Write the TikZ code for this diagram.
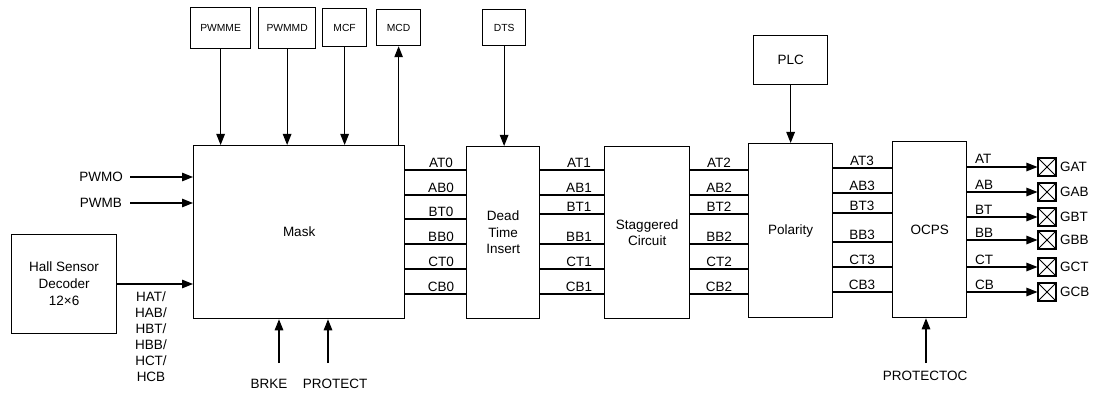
\documentclass[tikz,border=0pt]{standalone}
\usepackage{fontspec}
\setmainfont{Liberation Sans}
\usetikzlibrary{arrows.meta}
\begin{document}
\begin{tikzpicture}[x=1pt,y=-1pt,
  box/.style={draw, line width=1.25pt, inner sep=0pt, anchor=north west, align=center},
  lbl/.style={font=\fontsize{13.5}{16}\selectfont, inner sep=0pt},
  big/.style={font=\fontsize{13.5}{16.5}\selectfont},
  small/.style={font=\fontsize{10.3}{12}\selectfont},
  arr/.style={line width=1.2pt, -{Triangle[length=11pt,width=8.5pt]}},
  wire/.style={line width=1.2pt},
  xbox/.style={draw, line width=1.1pt, minimum size=18pt, inner sep=0pt}]
\useasboundingbox (0,0) rectangle (1097,393);

% top control boxes
\node[box, small, minimum width=60pt, minimum height=41pt] (pwmme) at (190,7) {PWMME};
\node[box, small, minimum width=57pt, minimum height=41pt] (pwmmd) at (258,7) {PWMMD};
\node[box, small, minimum width=44pt, minimum height=38pt] (mcf) at (322,8) {MCF};
\node[box, small, minimum width=44pt, minimum height=36pt] (mcd) at (376,9) {MCD};
\node[box, small, minimum width=43pt, minimum height=36pt] (dts) at (482,9) {DTS};
\node[box, big, minimum width=74pt, minimum height=49pt] (plc) at (753,35) {PLC};

% main blocks
\node[box, big, minimum width=211pt, minimum height=173pt] (mask) at (193,145) {Mask};
\node[box, big, minimum width=73pt, minimum height=172pt] (dti) at (466,146) {Dead\\Time\\Insert};
\node[box, big, minimum width=85pt, minimum height=172pt] (stag) at (604,146) {Staggered\\Circuit};
\node[box, big, minimum width=84pt, minimum height=174pt] (pol) at (748,143) {Polarity};
\node[box, big, minimum width=74pt, minimum height=176pt] (ocps) at (892,141) {OCPS};
\node[box, font=\fontsize{13.5}{17}\selectfont, minimum width=105pt, minimum height=99pt] (hall) at (11,234) {Hall Sensor\\Decoder\\12×6};

% top arrows
\draw[arr] (pwmme.south) -- (pwmme.south |- mask.north);
\draw[arr] (pwmmd.south) -- (pwmmd.south |- mask.north);
\draw[arr] (mcf.south) -- (mcf.south |- mask.north);
\draw[arr] (mcd.south |- mask.north) -- (mcd.south);
\draw[arr] (dts.south) -- (dts.south |- dti.north);
\draw[arr] (plc.south) -- (plc.south |- pol.north);

% left inputs
\node[lbl, anchor=east] (pwmo) at (123,177) {PWMO};
\draw[arr, shorten <=7pt] (pwmo.east) -- (pwmo.east -| mask.west);
\node[lbl, anchor=east] (pwmb) at (122,203) {PWMB};
\draw[arr, shorten <=8pt] (pwmb.east) -- (pwmb.east -| mask.west);
\draw[arr] (hall.east |- 0,284) -- (mask.west |- 0,284);
\node[lbl, align=center] (hlbl) at (151,337) {HAT/\\HAB/\\HBT/\\HBB/\\HCT/\\HCB};

% bottom inputs
\node[lbl] (brke) at (269,384) {BRKE};
\coordinate (brkein) at (279,363);
\draw[arr] (brkein) -- (brkein |- mask.south);
\node[lbl] (protect) at (335,384) {PROTECT};
\coordinate (protin) at (328,363);
\draw[arr] (protin) -- (protin |- mask.south);
\node[lbl] (protectoc) at (925,376) {PROTECTOC};
\coordinate (ocin) at (926,363);
\draw[arr] (ocin) -- (ocin |- ocps.south);

% signal buses
\foreach \n/\y in {AT0/170, AB0/195, BT0/219, BB0/244, CT0/269, CB0/294} {
  \draw[wire] (mask.east |- 0,\y) -- (dti.west |- 0,\y);
  \node[lbl, anchor=base] (l\n) at (441,\y-3) {\n};
}
\foreach \n/\y in {AT1/170, AB1/195, BT1/214, BB1/244, CT1/269, CB1/294} {
  \draw[wire] (dti.east |- 0,\y) -- (stag.west |- 0,\y);
  \node[lbl, anchor=base] (l\n) at (579,\y-3) {\n};
}
\foreach \n/\y in {AT2/170, AB2/195, BT2/214, BB2/244, CT2/269, CB2/294} {
  \draw[wire] (stag.east |- 0,\y) -- (pol.west |- 0,\y);
  \node[lbl, anchor=base] (l\n) at (719,\y-3) {\n};
}
\foreach \n/\y in {AT3/168, AB3/193, BT3/213, BB3/242, CT3/267, CB3/292} {
  \draw[wire] (pol.east |- 0,\y) -- (ocps.west |- 0,\y);
  \node[lbl, anchor=base] (l\n) at (862,\y-3) {\n};
}
\foreach \n/\g/\y in {AT/GAT/167, AB/GAB/192, BT/GBT/217, BB/GBB/240, CT/GCT/267, CB/GCB/292} {
  \node[xbox] (x\g) at (1047,\y) {};
  \draw[line width=0.9pt] (x\g.north west) -- (x\g.south east) (x\g.north east) -- (x\g.south west);
  \draw[arr] (ocps.east |- 0,\y) -- (x\g.west);
  \node[lbl, anchor=base west] (l\n) at (975,\y-3) {\n};
  \node[lbl, anchor=west] (t\g) at (1060,\y) {\g};
}
\end{tikzpicture}
\end{document}
